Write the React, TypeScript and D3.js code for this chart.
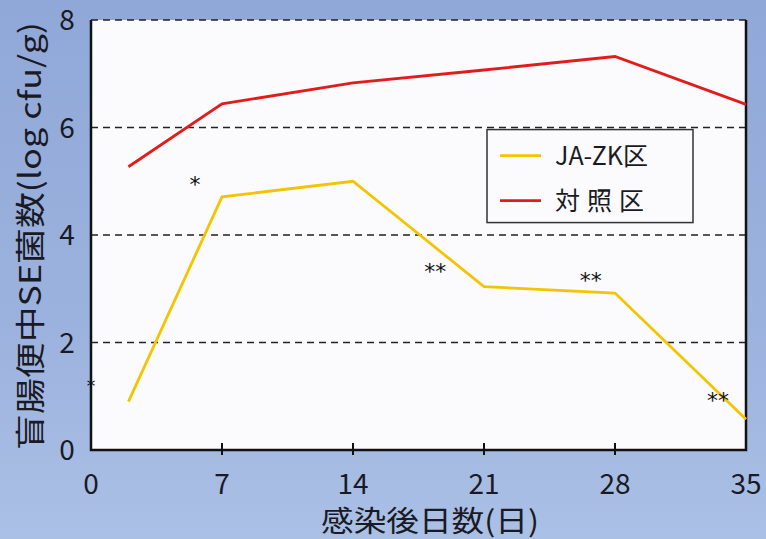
import React from 'react';
import * as d3 from 'd3';

// days after infection
const jaDays = [2, 7, 14, 21, 28, 35];
const jaValues = [0.9, 4.71, 5.0, 3.04, 2.92, 0.57];
const ctrlDays = [2, 7, 14, 21, 28, 35];
const ctrlValues = [5.27, 6.44, 6.83, 7.07, 7.32, 6.43];

const xTicks = [0, 7, 14, 21, 28, 35];
const yTicks = [0, 2, 4, 6, 8];
const gridValues = [2, 4, 6, 8];

// significance marks: [day, value, label]
const marks: [number, number, string][] = [
    [5.56, 5.05, '*'],
    [18.4, 3.43, '**'],
    [26.7, 3.26, '**'],
    [33.5, 1.03, '**'],
];

const seriesNames = ['JA-ZK区', '対照区'];
const seriesColors = ['#f5c400', '#e31b1b'];

const W = 766;
const H = 539;
const margin = { top: 20, right: 20, bottom: 89, left: 91 };
const FONT = '"Noto Sans CJK JP", "Noto Sans", sans-serif';

const App: React.FC = () => {
    const width = W - margin.left - margin.right;
    const height = H - margin.top - margin.bottom;

    const x = d3.scaleLinear().domain([0, 35]).range([0, width]);
    const y = d3.scaleLinear().domain([0, 8]).range([height, 0]);

    const line = d3
        .line<[number, number]>()
        .x((d) => x(d[0]))
        .y((d) => y(d[1]));

    const jaPts = jaDays.map((d, i) => [d, jaValues[i]] as [number, number]);
    const ctrlPts = ctrlDays.map((d, i) => [d, ctrlValues[i]] as [number, number]);

    return (
        <svg
            width={W}
            height={H}
            style={{ position: 'absolute', left: 0, top: 0 }}
            fontFamily={FONT}
        >
            <defs>
                <linearGradient id="bg" x1="0" y1="0" x2="0" y2="1">
                    <stop offset="0%" stopColor="#90a8d8" />
                    <stop offset="60%" stopColor="#9cb2de" />
                    <stop offset="100%" stopColor="#abc0e5" />
                </linearGradient>
            </defs>
            <rect width={W} height={H} fill="url(#bg)" />

            <g transform={`translate(${margin.left},${margin.top})`}>
                <rect width={width} height={height} fill="#fbfbfd" />

                {gridValues.map((v) => (
                    <line
                        key={v}
                        x1={0}
                        x2={width}
                        y1={y(v)}
                        y2={y(v)}
                        stroke="#222"
                        strokeWidth={1.5}
                        strokeDasharray="7,5"
                    />
                ))}

                {/* axes frame: left, bottom, right */}
                <path
                    d={`M0,${y(8)}V${height}H${width}V${y(8)}`}
                    fill="none"
                    stroke="#111"
                    strokeWidth={2.5}
                />

                {xTicks.slice(1, -1).map((t) => (
                    <line
                        key={t}
                        x1={x(t)}
                        x2={x(t)}
                        y1={height - 7}
                        y2={height + 5}
                        stroke="#111"
                        strokeWidth={2}
                    />
                ))}

                <path d={line(ctrlPts) || ''} fill="none" stroke={seriesColors[1]} strokeWidth={2.8} />
                <path d={line(jaPts) || ''} fill="none" stroke={seriesColors[0]} strokeWidth={2.8} />

                {marks.map(([d, v, s], i) => (
                    <text
                        key={i}
                        x={x(d)}
                        y={y(v)}
                        dy="0.62em"
                        textAnchor="middle"
                        fontSize={22}
                        fontFamily='"DejaVu Sans", sans-serif'
                        fill="#111"
                    >
                        {s}
                    </text>
                ))}
                <text
                    x={x(0)}
                    y={y(1.28)}
                    dy="0.62em"
                    textAnchor="middle"
                    fontSize={17}
                    fontFamily='"DejaVu Sans", sans-serif'
                    fill="#111"
                >
                    *
                </text>

                {yTicks.map((t) => (
                    <text
                        key={t}
                        x={-24}
                        y={y(t)}
                        dy="0.36em"
                        textAnchor="middle"
                        fontSize={28}
                        fill="#1a1a24"
                    >
                        {t}
                    </text>
                ))}
                {xTicks.map((t) => (
                    <text
                        key={t}
                        x={x(t)}
                        y={height + 44}
                        textAnchor="middle"
                        fontSize={28}
                        fill="#1a1a24"
                    >
                        {t}
                    </text>
                ))}

                {/* legend */}
                <g transform={`translate(${x(21) + 3},${y(5.98) + 1})`}>
                    <rect
                        width={206}
                        height={93}
                        fill="#fbfbfd"
                        stroke="#333"
                        strokeWidth={1.5}
                    />
                    {seriesNames.map((n, i) => (
                        <g key={n} transform={`translate(0,${26 + i * 45})`}>
                            <line x1={13} x2={54} y1={0} y2={0} stroke={seriesColors[i]} strokeWidth={2.8} />
                            <text
                                x={68}
                                y={0}
                                dy="0.36em"
                                fontSize={25}
                                letterSpacing={i === 1 ? 7 : 0}
                                fill="#1a1a24"
                            >
                                {n}
                            </text>
                        </g>
                    ))}
                </g>
            </g>

            <text
                transform="translate(41,236) rotate(-90)"
                textAnchor="middle"
                fontSize={30}
                textLength={428}
                lengthAdjust="spacingAndGlyphs"
                fill="#1a1a24"
            >
                盲腸便中SE菌数(log cfu/g)
            </text>
            <text
                x={430}
                y={532}
                textAnchor="middle"
                fontSize={29}
                textLength={218}
                lengthAdjust="spacingAndGlyphs"
                fill="#1a1a24"
            >
                感染後日数(日)
            </text>
        </svg>
    );
};

export default App;
